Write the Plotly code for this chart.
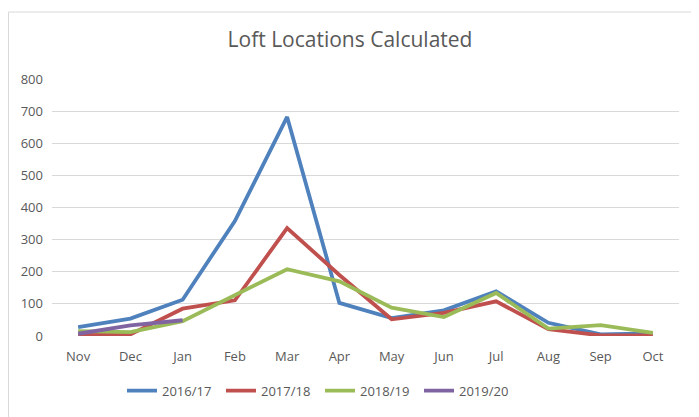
import plotly.graph_objects as go

months = ["Nov", "Dec", "Jan", "Feb", "Mar", "Apr", "May", "Jun", "Jul", "Aug", "Sep", "Oct"]
s2016 = [28, 54, 113, 358, 682, 103, 56, 80, 139, 41, 5, 8]
s2017 = [5, 5, 85, 111, 336, 190, 52, 72, 108, 21, 2, 2]
s2018 = [15, 12, 46, 126, 208, 170, 88, 59, 134, 23, 34, 10]
s2019 = [7, 33, 49]

series = [
    ("2016/17", s2016, "#4F81BD"),
    ("2017/18", s2017, "#C0504D"),
    ("2018/19", s2018, "#9BBB59"),
    ("2019/20", s2019, "#8064A2"),
]

fig = go.Figure()
for name, vals, color in series:
    fig.add_trace(go.Scatter(
        x=months[:len(vals)], y=vals, name=name, mode="lines",
        line=dict(color=color, width=3.8),
    ))

# page has an 8px body margin; compensate
W, H = 691, 409
L, T = 44, 71
PW, PH = 627, 259
font_family = "Open Sans, Liberation Sans, sans-serif"
fig.update_layout(
    width=W, height=H,
    margin=dict(l=L, r=W - L - PW, t=T, b=H - T - PH),
    paper_bgcolor="white", plot_bgcolor="white",
    font=dict(family=font_family, color="#595959", size=13),
    title=dict(text="Loft Locations Calculated", x=(350 - 52) / PW, xref="paper", y=1 - 32 / H,
               yanchor="middle", xanchor="center",
               font=dict(size=21, color="#595959", family=font_family)),
    xaxis=dict(type="category", categoryorder="array", categoryarray=months,
               range=[-0.5, 11.5], showgrid=False, showline=False, zeroline=False,
               ticks="", ticklabelstandoff=11, tickfont=dict(size=13, color="#595959")),
    yaxis=dict(range=[0, 800], dtick=100, showgrid=True, gridcolor="#D9D9D9", gridwidth=1,
               zeroline=False, showline=False, ticks="", ticklabelstandoff=8,
               tickfont=dict(size=13, color="#595959")),
    showlegend=True,
    legend=dict(orientation="h", x=(320 - 52) / PW, xanchor="center", y=(337 - 392) / PH, yanchor="middle",
                font=dict(size=13, color="#595959"), entrywidth=54, traceorder="normal"),
    shapes=[dict(type="rect", xref="paper", yref="paper",
                 x0=(8.5 - 52) / PW, x1=(740 - 52) / PW,
                 y0=(337 - 430) / PH, y1=(337 - 10.5) / PH,
                 line=dict(color="#D9D9D9", width=1), layer="below")],
)
fig.write_html("out.html")
